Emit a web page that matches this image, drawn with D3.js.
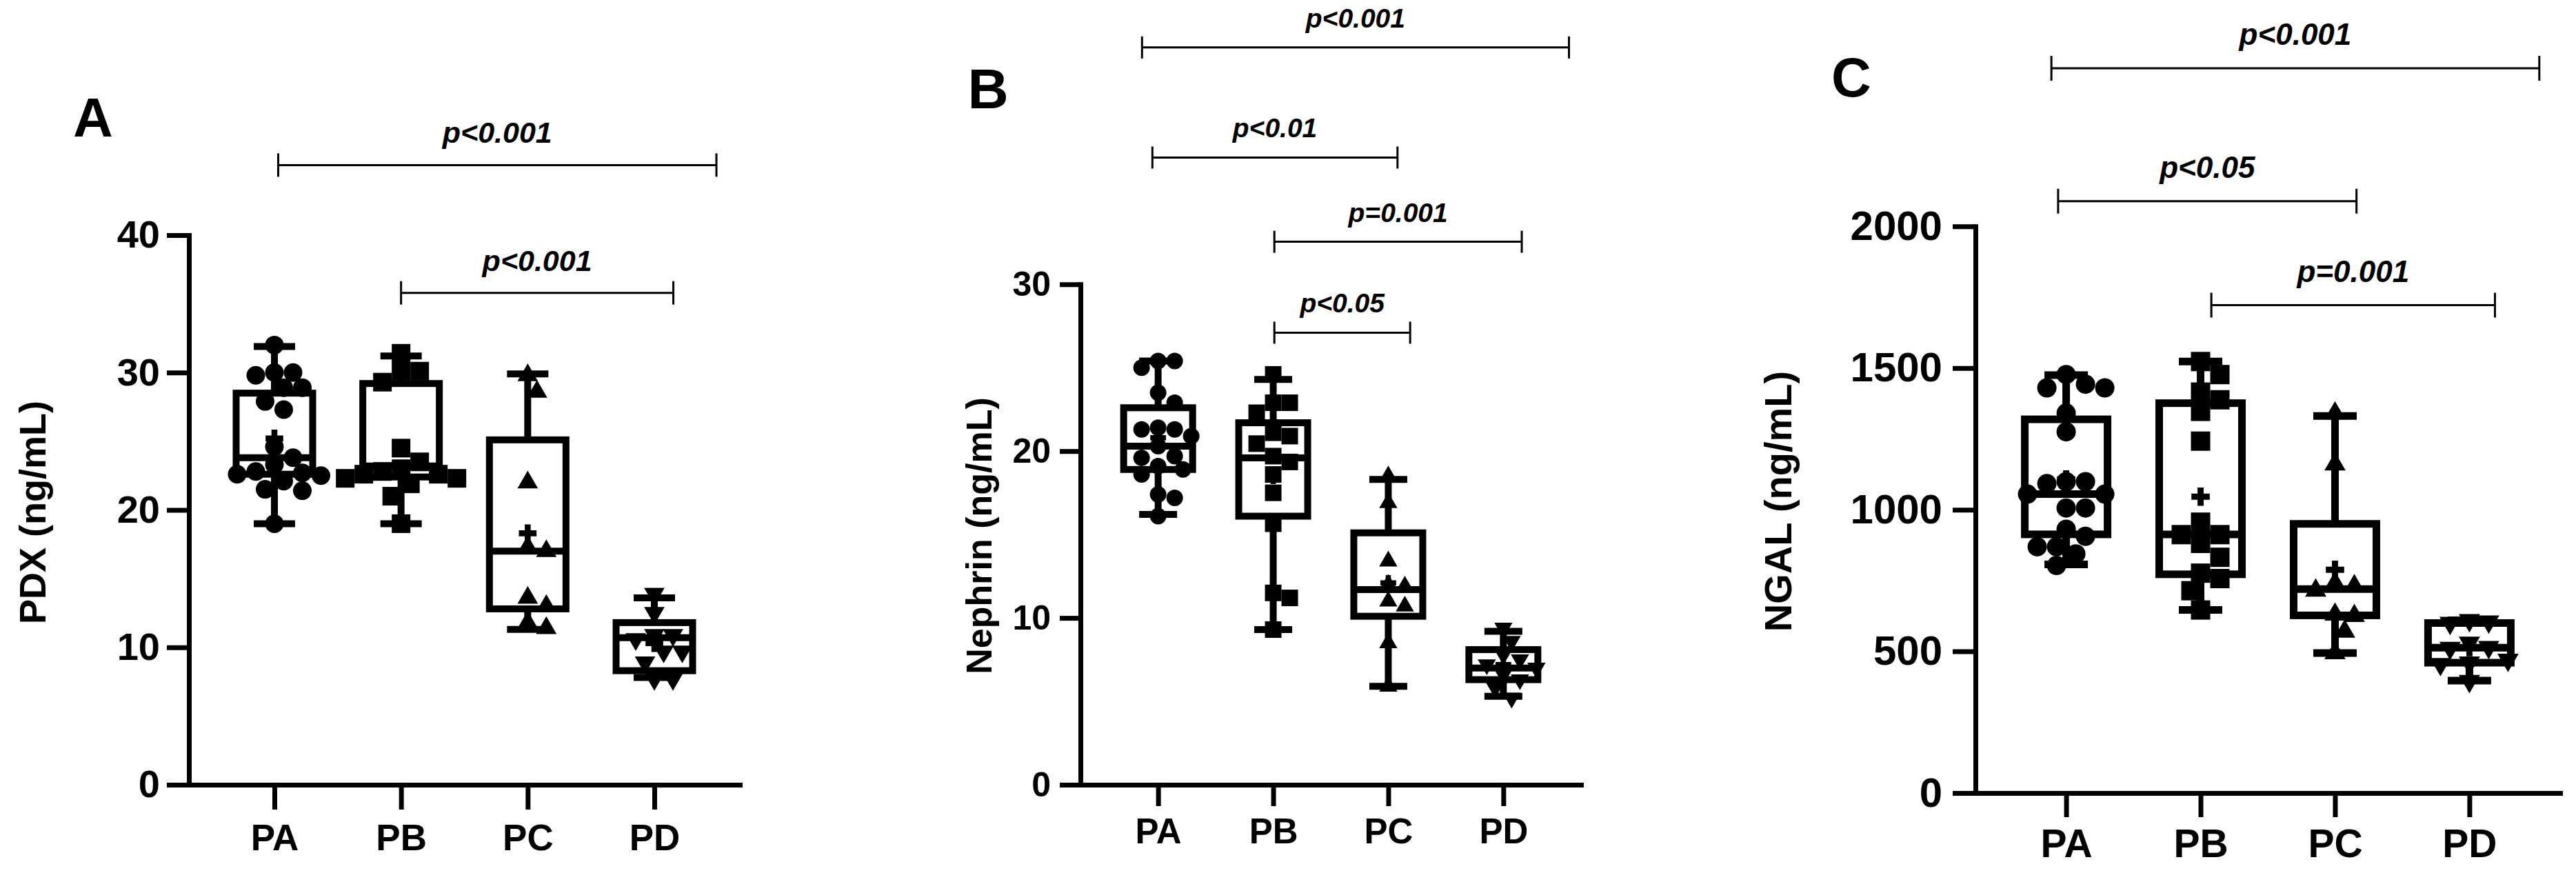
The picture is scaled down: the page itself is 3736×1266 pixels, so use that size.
<!DOCTYPE html>
<html>
<head>
<meta charset="utf-8">
<script src="https://cdn.jsdelivr.net/npm/d3@7"></script>
<style>
  html, body { margin: 0; padding: 0; background: #fff; }
  svg { display: block; }
  text { font-family: "Liberation Sans", Arial, Helvetica, sans-serif; fill: #000; }
</style>
</head>
<body>
<svg id="chart" width="3736" height="1266"></svg>
<script>
// ---------------- DATA ----------------
const categories = ["PA", "PB", "PC", "PD"];

// Panel A : PDX (ng/mL)
const pdxTicks = [0, 10, 20, 30, 40];
const pdxPA = [32.0, 30.0, 29.8, 30.0, 28.9, 28.9, 27.9, 27.3, 24.6, 23.8, 22.7, 22.1, 22.6, 22.5, 22.8, 23.3, 21.4, 21.5, 19.0];
const pdxPB = [31.4, 30.1, 30.1, 29.3, 24.5, 23.0, 23.5, 22.6, 22.6, 22.8, 22.3, 22.3, 21.9, 21.0, 19.0];
const pdxPC = [29.8, 28.6, 22.0, 17.0, 17.3, 13.6, 13.0, 11.8, 11.4];
const pdxPD = [13.9, 12.5, 10.9, 10.9, 10.6, 9.7, 9.7, 8.9, 7.7, 7.7];
const pdxMin    = [19.0, 19.0, 11.3, 7.8];
const pdxQ1     = [22.6, 22.4, 12.8, 8.3];
const pdxMedian = [23.8, 23.2, 17.0, 10.7];
const pdxQ3     = [28.5, 29.2, 25.1, 11.8];
const pdxMax    = [31.9, 31.2, 29.9, 13.6];
const pdxMean   = [25.2, 24.5, 18.3, 10.3];
const pdxBrackets = [
  { from: "PA", to: "PD", label: "p<0.001", level: 45.1 },
  { from: "PB", to: "PD", label: "p<0.001", level: 35.8 }
];

// Panel B : Nephrin (ng/mL)
const nephTicks = [0, 10, 20, 30];
const nephPA = [25.4, 25.4, 25.0, 23.5, 22.9, 21.3, 21.4, 20.9, 21.3, 20.3, 19.7, 19.6, 18.9, 19.1, 18.6, 17.4, 17.2, 16.1];
const nephPB = [24.6, 22.9, 22.9, 22.3, 21.1, 20.9, 20.45, 19.7, 19.35, 18.6, 17.5, 15.65, 11.5, 11.2, 9.3];
const nephPC = [18.5, 16.9, 13.4, 12.0, 11.9, 11.0, 10.7, 8.5, 5.9];
const nephPD = [9.4, 8.6, 7.8, 7.5, 7.2, 7.0, 6.6, 6.3, 5.8, 5.2];
const nephMin    = [16.2, 9.3, 5.9, 5.3];
const nephQ1     = [18.9, 16.1, 10.1, 6.3];
const nephMedian = [20.3, 19.6, 11.7, 7.0];
const nephQ3     = [22.6, 21.7, 15.1, 8.1];
const nephMax    = [25.4, 24.3, 18.3, 9.2];
const nephMean   = [20.8, 18.5, 12.1, 7.2];
const nephBrackets = [
  { from: "PA", to: "PD", label: "p<0.001", level: 44.2 },
  { from: "PA", to: "PC", label: "p<0.01",  level: 37.6 },
  { from: "PB", to: "PD", label: "p=0.001", level: 32.55 },
  { from: "PB", to: "PC", label: "p<0.05",  level: 27.1 }
];

// Panel C : NGAL (ng/mL)
const ngalTicks = [0, 500, 1000, 1500, 2000];
const ngalPA = [1477, 1430, 1430, 1443, 1341, 1275, 1099, 1099, 1092, 1055, 1055, 1006, 1006, 931, 906, 869, 869, 844, 803];
const ngalPB = [1523, 1477, 1415, 1388, 1347, 1242, 956, 912, 912, 881, 832, 776, 757, 714, 646];
const ngalPC = [1340, 1160, 740, 730, 715, 630, 625, 570, 494];
const ngalPD = [610, 605, 600, 530, 515, 512, 470, 460, 455, 395];
const ngalMin    = [807, 646, 494, 397];
const ngalQ1     = [913, 772, 627, 460];
const ngalMedian = [1055, 913, 720, 513];
const ngalQ3     = [1319, 1376, 950, 600];
const ngalMax    = [1475, 1523, 1331, 610];
const ngalMean   = [1107, 1046, 788, 515];
const ngalBrackets = [
  { from: "PA", to: "PD", label: "p<0.001", level: 2558 },
  { from: "PA", to: "PC", label: "p<0.05",  level: 2089 },
  { from: "PB", to: "PD", label: "p=0.001", level: 1722 }
];

const markerShapes = ["circle", "square", "triangle", "triangleDown"];

// ---------------- LAYOUT (positions / sizes / styles) ----------------
const layouts = [
  { letter: "A", title: "PDX (ng/mL)", letterX: 135, letterY: 198, letterFont: 80,
    titleX: 47, titleY: 743, titleFont: 54,
    x0: 274, x1: 1073, y0: 1138, yTop: 341, axisW: 7,
    yTick: 32, yPad: 10, yFont: 56, xTick: 36, xPad: 21, xFont: 53,
    boxW: 111, boxS: 10, capW: 60, marker: 27,
    pFont: 43, pOff: 32, bracketTick: 17, bracketW: 3,
    bracketShift: [[0.03, 0.49], [0.0, 0.15]] },
  { letter: "B", title: "Nephrin (ng/mL)", letterX: 1433, letterY: 157, letterFont: 82,
    titleX: 1419, titleY: 777, titleFont: 52,
    x0: 1567, x1: 2293, y0: 1138, yTop: 412.3, axisW: 7,
    yTick: 30, yPad: 13, yFont: 50, xTick: 31, xPad: 18, xFont: 51,
    boxW: 100, boxS: 10, capW: 55, marker: 24,
    pFont: 39, pOff: 29, bracketTick: 16, bracketW: 3,
    bracketShift: [[-0.14, 0.57], [-0.05, 0.08], [0.01, 0.16], [0.01, 0.19]] },
  { letter: "C", title: "NGAL (ng/mL)", letterX: 2685, letterY: 140, letterFont: 80,
    titleX: 2578, titleY: 727, titleFont: 56,
    x0: 2865, x1: 3713, y0: 1150, yTop: 328.3, axisW: 7,
    yTick: 33, yPad: 15, yFont: 60, xTick: 35, xPad: 18, xFont: 57,
    boxW: 120, boxS: 11, capW: 63, marker: 28,
    pFont: 44, pOff: 34, bracketTick: 18, bracketW: 3,
    bracketShift: [[-0.11, 0.52], [-0.06, 0.16], [0.08, 0.19]] }
];

const panels = [
  { domain: [0, 40], ticks: pdxTicks, groups: [pdxPA, pdxPB, pdxPC, pdxPD],
    min: pdxMin, q1: pdxQ1, median: pdxMedian, q3: pdxQ3, max: pdxMax, mean: pdxMean, brackets: pdxBrackets },
  { domain: [0, 30], ticks: nephTicks, groups: [nephPA, nephPB, nephPC, nephPD],
    min: nephMin, q1: nephQ1, median: nephMedian, q3: nephQ3, max: nephMax, mean: nephMean, brackets: nephBrackets },
  { domain: [0, 2000], ticks: ngalTicks, groups: [ngalPA, ngalPB, ngalPC, ngalPD],
    min: ngalMin, q1: ngalQ1, median: ngalMedian, q3: ngalQ3, max: ngalMax, mean: ngalMean, brackets: ngalBrackets }
];

// ---------------- DRAW ----------------
const svg = d3.select("#chart");
svg.append("rect").attr("width", 3736).attr("height", 1266).attr("fill", "#fff");

function symbolPath(shape, D) {
  if (shape === "circle") return d3.symbol(d3.symbolCircle, Math.PI * (D / 2) * (D / 2))();
  if (shape === "square") return d3.symbol(d3.symbolSquare, D * D)();
  const s = D * 1.1;
  return d3.symbol(d3.symbolTriangle, Math.sqrt(3) / 4 * s * s)();
}

// deterministic beeswarm: spread overlapping points sideways
function swarm(values, y, cx, D) {
  const pts = values.map(v => ({ v: v, y: y(v) })).sort((a, b) => a.y - b.y);
  const placed = [];
  const minD = D * 0.92;
  const step = D * 0.5;
  pts.forEach(p => {
    for (let k = 0; k < 60; k++) {
      const off = k === 0 ? 0 : (k % 2 ? 1 : -1) * Math.ceil(k / 2) * step;
      const xx = cx + off;
      if (placed.every(q => Math.hypot(q.x - xx, q.y - p.y) >= minD)) {
        p.x = xx; placed.push(p); break;
      }
    }
  });
  return placed;
}

panels.forEach((P, pi) => {
  const L = layouts[pi];
  const g = svg.append("g");
  const x = d3.scalePoint().domain(categories).range([L.x0, L.x1]).padding(0.675);
  const y = d3.scaleLinear().domain(P.domain).range([L.y0, L.yTop]);
  const xi = d3.scaleLinear().domain([0, 1]).range([x("PA"), x("PA") + x.step()]);

  // panel letter
  g.append("text").attr("x", L.letterX).attr("y", L.letterY)
    .attr("text-anchor", "middle").style("font-size", L.letterFont + "px")
    .style("font-weight", "bold").text(L.letter);

  // y-axis title
  g.append("text")
    .attr("transform", `translate(${L.titleX},${L.titleY}) rotate(-90)`)
    .attr("text-anchor", "middle").attr("dy", "0.36em")
    .style("font-size", L.titleFont + "px").style("font-weight", "bold")
    .text(L.title);

  // y axis
  const ya = g.append("g").attr("transform", `translate(${L.x0},0)`)
    .call(d3.axisLeft(y).tickValues(P.ticks).tickFormat(d3.format("d"))
      .tickSize(L.yTick).tickSizeOuter(0).tickPadding(L.yPad));
  ya.attr("font-size", null).attr("font-family", null);
  ya.select(".domain").attr("stroke", "#000").attr("stroke-width", L.axisW).attr("stroke-linecap", "square");
  ya.selectAll(".tick line").attr("stroke", "#000").attr("stroke-width", L.axisW);
  ya.selectAll(".tick text").attr("fill", "#000").style("font-size", L.yFont + "px").style("font-weight", "bold");

  // x axis
  const xa = g.append("g").attr("transform", `translate(0,${L.y0})`)
    .call(d3.axisBottom(x).tickSize(L.xTick).tickSizeOuter(0).tickPadding(L.xPad));
  xa.attr("font-size", null).attr("font-family", null);
  xa.select(".domain").attr("stroke", "#000").attr("stroke-width", L.axisW).attr("stroke-linecap", "square");
  xa.selectAll(".tick line").attr("stroke", "#000").attr("stroke-width", L.axisW);
  xa.selectAll(".tick text").attr("fill", "#000").style("font-size", L.xFont + "px").style("font-weight", "bold");

  // box plots
  categories.forEach((c, ci) => {
    const cx = x(c);
    const bg = g.append("g");
    // whiskers
    bg.append("line").attr("x1", cx).attr("x2", cx).attr("y1", y(P.q3[ci])).attr("y2", y(P.max[ci]))
      .attr("stroke", "#000").attr("stroke-width", L.boxS);
    bg.append("line").attr("x1", cx).attr("x2", cx).attr("y1", y(P.q1[ci])).attr("y2", y(P.min[ci]))
      .attr("stroke", "#000").attr("stroke-width", L.boxS);
    // caps
    [P.max[ci], P.min[ci]].forEach(v => {
      bg.append("line").attr("x1", cx - L.capW / 2).attr("x2", cx + L.capW / 2)
        .attr("y1", y(v)).attr("y2", y(v)).attr("stroke", "#000").attr("stroke-width", L.boxS);
    });
    // box
    bg.append("rect").attr("x", cx - L.boxW / 2).attr("y", y(P.q3[ci]))
      .attr("width", L.boxW).attr("height", y(P.q1[ci]) - y(P.q3[ci]))
      .attr("fill", "#fff").attr("stroke", "#000").attr("stroke-width", L.boxS);
    // median
    bg.append("line").attr("x1", cx - L.boxW / 2).attr("x2", cx + L.boxW / 2)
      .attr("y1", y(P.median[ci])).attr("y2", y(P.median[ci]))
      .attr("stroke", "#000").attr("stroke-width", L.boxS);

    // points
    const shape = markerShapes[ci];
    const pts = swarm(P.groups[ci], y, cx, L.marker);
    const path = symbolPath(shape, L.marker);
    bg.selectAll("path.pt").data(pts).join("path").attr("class", "pt")
      .attr("d", path)
      .attr("transform", d => `translate(${d.x},${d.y})` + (shape === "triangleDown" ? " rotate(180)" : ""))
      .attr("fill", "#000");

    // mean (+)
    const w = L.marker * 0.95;
    bg.append("path").attr("d", d3.symbol(d3.symbolCross, 5 * (w / 3) * (w / 3))())
      .attr("transform", `translate(${cx},${y(P.mean[ci])})`).attr("fill", "#000");
  });

  // significance brackets
  P.brackets.forEach((b, bi) => {
    const sh = L.bracketShift[bi];
    const xs = xi(categories.indexOf(b.from) + sh[0]);
    const xe = xi(categories.indexOf(b.to) + sh[1]);
    const yy = y(b.level);
    const bgp = g.append("g").attr("stroke", "#000").attr("stroke-width", L.bracketW);
    bgp.append("line").attr("x1", xs).attr("x2", xe).attr("y1", yy).attr("y2", yy);
    bgp.append("line").attr("x1", xs).attr("x2", xs).attr("y1", yy - L.bracketTick).attr("y2", yy + L.bracketTick);
    bgp.append("line").attr("x1", xe).attr("x2", xe).attr("y1", yy - L.bracketTick).attr("y2", yy + L.bracketTick);
    g.append("text").attr("x", (xs + xe) / 2).attr("y", yy - L.pOff)
      .attr("text-anchor", "middle")
      .style("font-size", L.pFont + "px").style("font-weight", "bold").style("font-style", "italic")
      .text(b.label);
  });
});
</script>
</body>
</html>
